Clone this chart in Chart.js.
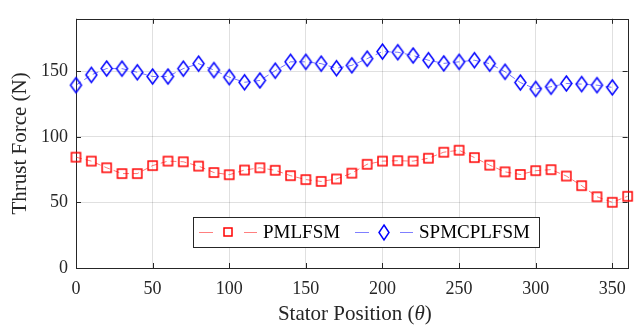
<!DOCTYPE html>
<html>
<head>
<meta charset="utf-8">
<script src="https://cdn.jsdelivr.net/npm/chart.js@4.4.0/dist/chart.umd.min.js"></script>
<style>
  html, body { margin: 0; padding: 0; background: #fff; }
  #wrap { position: relative; width: 636px; height: 326px; }
</style>
</head>
<body>
<div id="wrap"><canvas id="thrustChart" width="636" height="326"></canvas></div>
<script>
// Posiciones del estator (grados) y fuerzas de empuje
const anglesPM = [0, 10, 20, 30, 40, 50, 60, 70, 80, 90, 100, 110, 120, 130, 140, 150, 160, 170, 180,
  190, 200, 210, 220, 230, 240, 250, 260, 270, 280, 290, 300, 310, 320, 330, 340, 350, 360];
const forcePM = [84.5, 81.5, 76.4, 72, 72, 78.1, 81.5, 81, 77.7, 72.8, 71.1, 74.7, 76.4, 74.5, 70.4, 67.4, 66, 67.9, 72.3,
  79.1, 81.5, 81.8, 81.5, 83.7, 88.3, 89.8, 84.2, 78.4, 73.3, 71.3, 74.2, 75, 70.1, 62.8, 54.3, 50.1, 54.7];

const anglesSPM = [0, 10, 20, 30, 40, 50, 60, 70, 80, 90, 100, 110, 120, 130, 140, 150, 160, 170, 180,
  190, 200, 210, 220, 230, 240, 250, 260, 270, 280, 290, 300, 310, 320, 330, 340, 350];
const forceSPM = [139.4, 147.2, 152.1, 152, 149.2, 146, 146, 152, 155.8, 150.9, 145.5, 141.6, 143, 150.4, 157.2, 157.2, 155.8, 152.3, 154.5,
  159.6, 165, 164.5, 162, 158.4, 156, 157.2, 158.4, 155.8, 149.6, 141.4, 136.5, 138.2, 140.7, 140.2, 139.4, 137.7];

const xTicks = [0, 50, 100, 150, 200, 250, 300, 350];
const yTicks = [0, 50, 100, 150];
const seriesNames = ['PMLFSM', 'SPMCPLFSM'];

const AXIS_COLOR = '#262626';
const FONT = '"Liberation Serif", "Times New Roman", serif';

// Marcadores huecos dibujados en pequeños canvas
function makeSquare(side, color) {
    const c = document.createElement('canvas');
    c.width = side + 4; c.height = side + 4;
    const g = c.getContext('2d');
    g.strokeStyle = color; g.lineWidth = 1.5;
    g.strokeRect(2, 2, side, side);
    return c;
}
function makeDiamond(w, h, color) {
    const c = document.createElement('canvas');
    c.width = w + 4; c.height = h + 4;
    const g = c.getContext('2d');
    g.strokeStyle = color; g.lineWidth = 1.5;
    g.beginPath();
    g.moveTo(c.width / 2, 2);
    g.lineTo(c.width - 2, c.height / 2);
    g.lineTo(c.width / 2, c.height - 2);
    g.lineTo(2, c.height / 2);
    g.closePath();
    g.stroke();
    return c;
}

const squareMark = makeSquare(9, '#ff0000');
const diamondMark = makeDiamond(11, 15, '#0000ff');
const squareSmall = makeSquare(8, '#ff0000');
const diamondSmall = makeDiamond(10, 15, '#0000ff');

// Marco del eje con marcas hacia dentro (estilo MATLAB)
const boxPlugin = {
    id: 'boxAxes',
    beforeDatasetsDraw(chart) {
        const { ctx, chartArea: a, scales } = chart;
        ctx.save();
        ctx.strokeStyle = AXIS_COLOR;
        ctx.lineWidth = 1;
        ctx.strokeRect(Math.round(a.left) + 0.5, Math.round(a.top) + 0.5,
            Math.round(a.right - a.left), Math.round(a.bottom - a.top));
        const tl = 5;
        ctx.beginPath();
        xTicks.forEach(v => {
            const px = Math.round(scales.x.getPixelForValue(v)) + 0.5;
            ctx.moveTo(px, a.bottom); ctx.lineTo(px, a.bottom - tl);
            ctx.moveTo(px, a.top); ctx.lineTo(px, a.top + tl);
        });
        yTicks.forEach(v => {
            const py = Math.round(scales.y.getPixelForValue(v)) + 0.5;
            ctx.moveTo(a.left, py); ctx.lineTo(a.left + tl, py);
            ctx.moveTo(a.right, py); ctx.lineTo(a.right - tl, py);
        });
        ctx.stroke();
        ctx.restore();
    }
};

// Título del eje X con theta en cursiva
const xTitlePlugin = {
    id: 'xTitle',
    afterDraw(chart) {
        const { ctx, chartArea: a } = chart;
        const parts = [
            { t: 'Stator Position (', f: '21px ' + FONT },
            { t: 'θ', f: 'italic 21px ' + FONT },
            { t: ')', f: '21px ' + FONT }
        ];
        ctx.save();
        ctx.fillStyle = AXIS_COLOR;
        ctx.textBaseline = 'middle';
        let total = 0;
        parts.forEach(p => { ctx.font = p.f; p.w = ctx.measureText(p.t).width; total += p.w; });
        let x = (a.left + a.right) / 2 - total / 2 + 3;
        parts.forEach(p => { ctx.font = p.f; ctx.fillText(p.t, x, 314); x += p.w; });
        ctx.restore();
    }
};

// Leyenda dentro del área del gráfico
const legendPlugin = {
    id: 'insideLegend',
    afterDraw(chart) {
        const { ctx } = chart;
        const box = { x: 193, y: 217, w: 346, h: 30 };
        const cy = box.y + box.h / 2;
        ctx.save();
        ctx.fillStyle = '#fff';
        ctx.fillRect(box.x, box.y, box.w, box.h);
        ctx.strokeStyle = AXIS_COLOR;
        ctx.lineWidth = 1;
        ctx.strokeRect(box.x + 0.5, box.y + 0.5, box.w, box.h);

        const entries = [
            { x0: 199, mark: squareSmall, col: 'rgba(255,0,0,0.5)', label: seriesNames[0] },
            { x0: 355, mark: diamondSmall, col: 'rgba(0,0,255,0.5)', label: seriesNames[1] }
        ];
        entries.forEach(e => {
            ctx.strokeStyle = e.col;
            ctx.lineWidth = 1.2;
            ctx.beginPath();
            ctx.moveTo(e.x0, cy + 0.5); ctx.lineTo(e.x0 + 14, cy + 0.5);
            ctx.moveTo(e.x0 + 45, cy + 0.5); ctx.lineTo(e.x0 + 58, cy + 0.5);
            ctx.stroke();
            ctx.drawImage(e.mark, Math.round(e.x0 + 29 - e.mark.width / 2), Math.round(cy - e.mark.height / 2));
            ctx.fillStyle = '#000';
            ctx.font = '19px ' + FONT;
            ctx.textBaseline = 'middle';
            ctx.fillText(e.label, e.x0 + 64, cy + 1);
        });
        ctx.restore();
    }
};

const ctx = document.getElementById('thrustChart');
new Chart(ctx, {
    type: 'line',
    data: {
        datasets: [{
            label: seriesNames[0],
            data: anglesPM.map((a, i) => ({ x: a, y: forcePM[i] })),
            borderColor: 'rgba(255,0,0,0.55)',
            borderWidth: 1,
            borderDash: [6, 4],
            pointStyle: squareMark,
            pointRadius: 6,
            clip: false,
            tension: 0
        }, {
            label: seriesNames[1],
            data: anglesSPM.map((a, i) => ({ x: a, y: forceSPM[i] })),
            borderColor: 'rgba(0,0,255,0.55)',
            borderWidth: 1,
            borderDash: [6, 4],
            pointStyle: diamondMark,
            pointRadius: 6,
            clip: false,
            tension: 0
        }]
    },
    options: {
        responsive: false,
        animation: false,
        events: [],
        layout: { padding: { left: 0, right: 4, top: 9, bottom: 0 } },
        plugins: { legend: { display: false }, tooltip: { enabled: false } },
        scales: {
            x: {
                type: 'linear',
                min: 0, max: 360,
                afterFit: s => { s.height = 58; },
                afterBuildTicks: s => { s.ticks = xTicks.map(v => ({ value: v })); },
                border: { display: false },
                grid: { color: 'rgba(0,0,0,0.12)', drawTicks: false },
                ticks: { color: AXIS_COLOR, padding: 10, font: { family: FONT, size: 18 }, maxRotation: 0 }
            },
            y: {
                min: 0, max: 190,
                afterFit: s => { s.width = 76; },
                afterBuildTicks: s => { s.ticks = yTicks.map(v => ({ value: v })); },
                border: { display: false },
                grid: { color: 'rgba(0,0,0,0.12)', drawTicks: false },
                ticks: { color: AXIS_COLOR, padding: 8, font: { family: FONT, size: 18 } },
                title: {
                    display: true,
                    text: 'Thrust Force (N)',
                    color: AXIS_COLOR,
                    font: { family: FONT, size: 21 },
                    padding: { top: 8, bottom: 0 }
                }
            }
        }
    },
    plugins: [boxPlugin, xTitlePlugin, legendPlugin]
});
</script>
</body>
</html>
